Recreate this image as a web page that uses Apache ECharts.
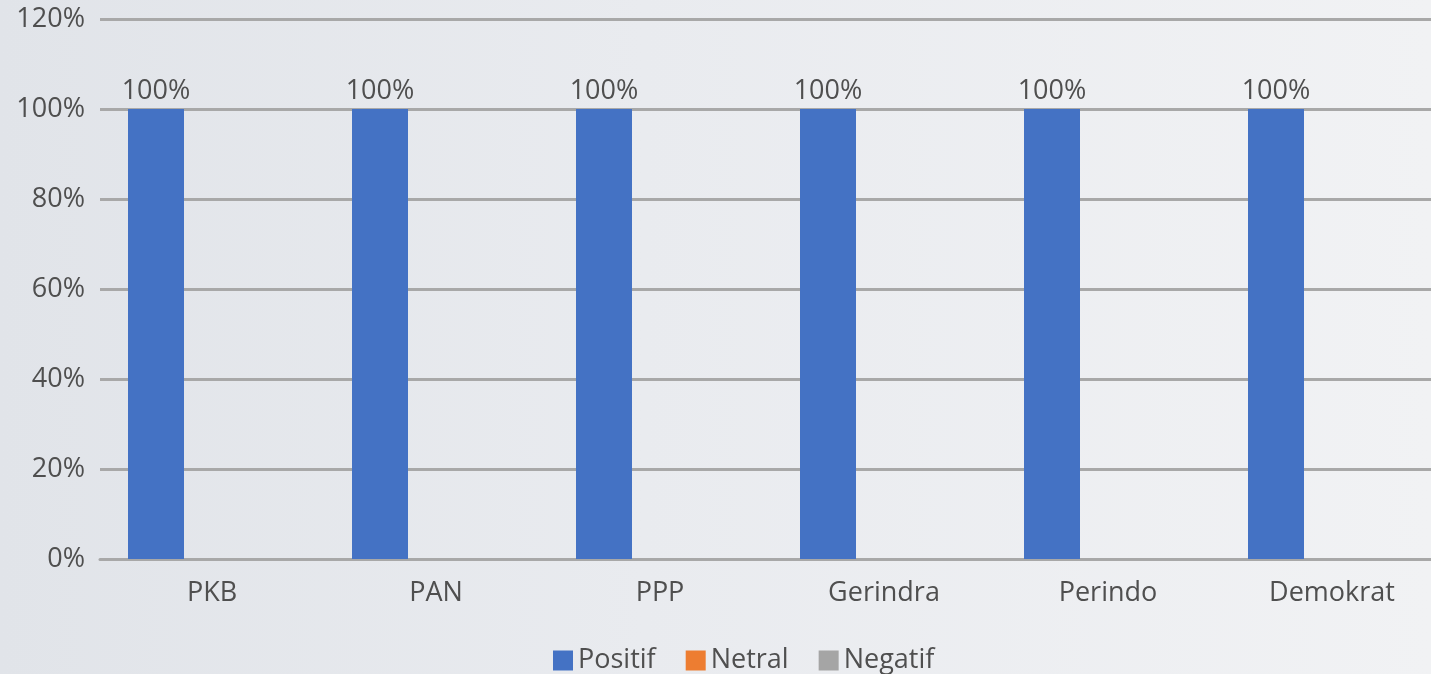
<!DOCTYPE html>
<html>
<head>
<meta charset="utf-8">
<script src="https://cdn.jsdelivr.net/npm/echarts@6/dist/echarts.min.js"></script>
<style>
html,body{margin:0;padding:0;overflow:hidden;width:1431px;height:674px;}
#wrap{width:1431px;height:674px;overflow:hidden;background:linear-gradient(90deg,#e1e4e9 0%,#e9ebef 45%,#f1f2f4 100%);}
#c{width:1444px;height:674px;}
</style>
</head>
<body>
<div id="wrap"><div id="c"></div></div>
<script>
var categories = ['PKB','PAN','PPP','Gerindra','Perindo','Demokrat'];
var positif = [100,100,100,100,100,100];
var netral = [0,0,0,0,0,0];
var negatif = [0,0,0,0,0,0];
var yTicks = [0,20,40,60,80,100,120];

var font = '"Open Sans", "Noto Sans", sans-serif';
var txt = '#4f4f4f';
var fs = 27;
var chart = echarts.init(document.getElementById('c'));
chart.setOption({
  animation:false,
  textStyle:{fontFamily:font},
  grid:{left:100,top:19,right:0,bottom:115,containLabel:false},
  legend:{
    left:548, top:642, itemWidth:20, itemHeight:20, itemGap:30,
    icon:'rect',
    textStyle:{fontFamily:font,fontSize:fs,color:txt},
    data:['Positif','Netral','Negatif']
  },
  xAxis:{
    type:'category', data:categories,
    axisLine:{lineStyle:{color:'#a8a8a8',width:3}},
    axisTick:{show:false},
    axisLabel:{color:txt,fontSize:fs,fontFamily:font,margin:21}
  },
  yAxis:{
    type:'value', min:yTicks[0], max:yTicks[yTicks.length-1], interval:20,
    axisLine:{show:false}, axisTick:{show:false},
    axisLabel:{color:txt,fontSize:fs,fontFamily:font,margin:15,padding:[4,0,0,0],formatter:'{value}%'},
    splitLine:{lineStyle:{color:'#a8a8a8',width:3}}
  },
  series:[
    {name:'Positif',type:'bar',data:positif,barWidth:56,barGap:'0%',
     itemStyle:{color:'#4472C4'},
     label:{show:true,position:'top',distance:4,color:txt,fontSize:fs,fontFamily:font,formatter:'{c}%'}},
    {name:'Netral',type:'bar',data:netral,barWidth:56,barGap:'0%',itemStyle:{color:'#ED7D31'}},
    {name:'Negatif',type:'bar',data:negatif,barWidth:56,barGap:'0%',itemStyle:{color:'#A5A5A5'}}
  ]
});
</script>
</body>
</html>
